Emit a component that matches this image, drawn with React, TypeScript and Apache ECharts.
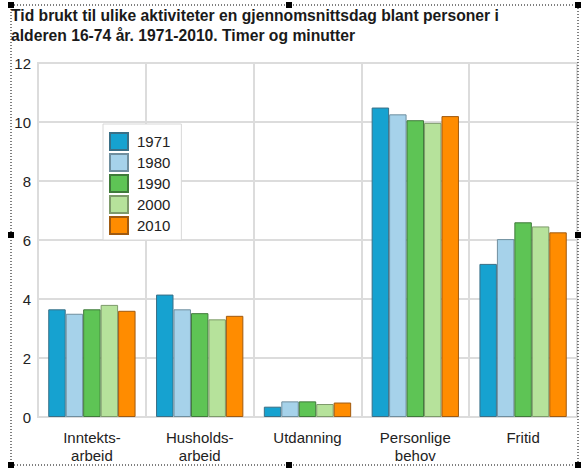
import React, { useEffect, useRef } from "react";
import * as echarts from "echarts";

const categories = ["Inntekts-\narbeid", "Husholds-\narbeid", "Utdanning", "Personlige\nbehov", "Fritid"];
const years = ["1971", "1980", "1990", "2000", "2010"];
const v1971 = [3.65, 4.15, 0.35, 10.49, 5.19];
const v1980 = [3.5, 3.65, 0.53, 10.26, 6.03];
const v1990 = [3.65, 3.52, 0.53, 10.06, 6.6];
const v2000 = [3.8, 3.31, 0.44, 9.97, 6.46];
const v2010 = [3.6, 3.43, 0.49, 10.2, 6.26];
const seriesValues = [v1971, v1980, v1990, v2000, v2010];
const colors = ["#16A2D0", "#A6D2EA", "#5EC455", "#B6E29B", "#FF8C00"];
const borders = ["#3a6f86", "#6f8e9e", "#3f7a3a", "#7d9a6a", "#a05a10"];
const titleLine1 = "Tid brukt til ulike aktiviteter en gjennomsnittsdag blant personer i";
const titleLine2 = "alderen 16-74 år. 1971-2010. Timer og minutter";

export default function App() {
  const ref = useRef<HTMLDivElement>(null);
  useEffect(() => {
    const chart = echarts.init(ref.current!, null, { renderer: "svg" });
    const font = "'Liberation Sans', Arial, sans-serif";
    const handles: any[] = [];
    const hx = [11, 289, 578];
    const hy = [5, 235, 465];
    hx.forEach((x, i) =>
      hy.forEach((y, j) => {
        if (i === 1 && j === 1) return;
        handles.push({ type: "rect", shape: { x: x - 3, y: y - 3, width: 6, height: 6 }, style: { fill: "#000" }, z: 10 });
      })
    );
    chart.setOption({
      animation: false,
      backgroundColor: "#fff",
      title: {
        text: titleLine1 + "\n" + titleLine2,
        left: 11,
        top: 5,
        padding: 0,
        textStyle: { fontFamily: font, fontSize: 15.7, fontWeight: "bold", color: "#1a1a1a", lineHeight: 20 },
      },
      legend: {
        orient: "vertical",
        left: 103,
        top: 124,
        data: years,
        itemWidth: 18,
        itemHeight: 17,
        itemGap: 2,
        padding: [8, 11, 5, 6],
        backgroundColor: "#fff",
        borderColor: "#d8d8d8",
        borderWidth: 1,
        textStyle: { fontFamily: font, fontSize: 15, color: "#222", lineHeight: 17, padding: [0, 0, 0, 4] },
        icon: "rect",
      },
      grid: {
        left: 38,
        right: 10,
        top: 63,
        bottom: 53,
        show: true,
        borderColor: "#dcdcdc",
        borderWidth: 2,
        containLabel: false,
      },
      xAxis: {
        type: "category",
        data: categories,
        axisLine: { show: true, lineStyle: { color: "#dcdcdc", width: 2 } },
        axisTick: { show: false },
        splitLine: { show: true, lineStyle: { color: "#dcdcdc", width: 2 } },
        axisLabel: { fontFamily: font, fontSize: 15, color: "#222", margin: 11, lineHeight: 18, interval: 0 },
      },
      yAxis: {
        type: "value",
        min: 0,
        max: 12,
        interval: 2,
        axisLine: { show: false },
        axisTick: { show: false },
        splitLine: { show: true, lineStyle: { color: "#dcdcdc", width: 2 } },
        axisLabel: { fontFamily: font, fontSize: 15, color: "#222", margin: 7 },
      },
      series: years.map((y, i) => ({
        name: y,
        type: "bar",
        data: seriesValues[i],
        barGap: "0%",
        barCategoryGap: "19%",
        itemStyle: { color: colors[i], borderColor: borders[i], borderWidth: 1 },
      })),
      graphic: [
        {
          type: "rect",
          shape: { x: 11, y: 5, width: 567, height: 460 },
          style: { fill: "none", stroke: "#000", lineWidth: 1, lineDash: [1, 2] },
          z: 9,
        },
        ...handles,
      ],
    });
    return () => chart.dispose();
  }, []);
  return <div ref={ref} style={{ width: 587, height: 470, position: "absolute", left: 0, top: 0 }} />;
}
